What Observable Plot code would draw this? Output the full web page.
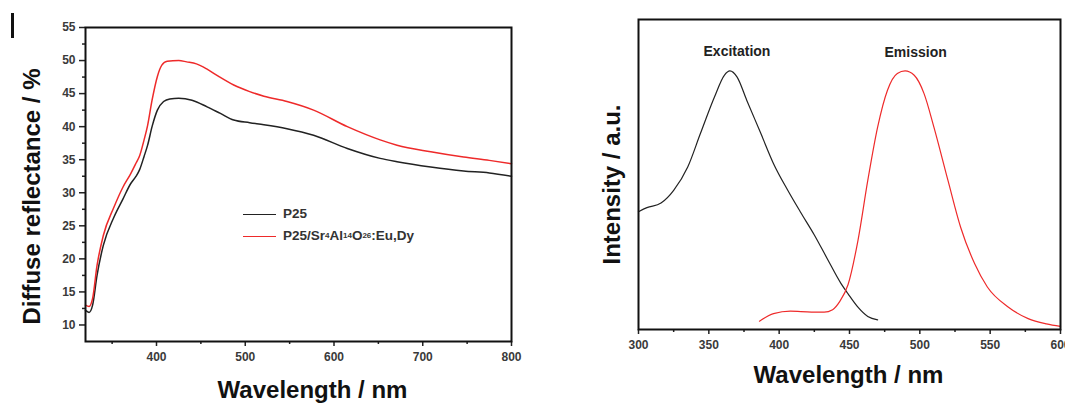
<!DOCTYPE html>
<html>
<head>
<meta charset="utf-8">
<script src="https://cdn.jsdelivr.net/npm/d3@7"></script>
<script src="https://cdn.jsdelivr.net/npm/@observablehq/plot@0.6"></script>
<style>
  html, body { margin: 0; padding: 0; background: #fff; overflow: hidden; }
  #wrap { position: relative; width: 1065px; height: 406px; font-family: "Liberation Sans", Arial, sans-serif; }
  .panel { position: absolute; top: 0; }
  .panel svg { overflow: visible; }
  #legend { position: absolute; left: 243px; top: 203px; font-size: 13.5px; font-weight: bold; color: #333; line-height: 22px; }
  #legend .row { display: flex; align-items: center; white-space: nowrap; }
  #legend .sw { display: inline-block; width: 33px; height: 0; border-top: 1.6px solid; margin-right: 7px; }
  #legend sub { font-size: 8px; vertical-align: -3px; }
  #corner { position: absolute; left: 11px; top: 13px; width: 3px; height: 25px; background: #111; }
</style>
</head>
<body>
<div id="wrap">
  <div id="corner"></div>
  <div class="panel" id="left" style="left:0;width:540px"></div>
  <div class="panel" id="right" style="left:560px;width:505px"></div>
  <div id="legend">
    <div class="row"><span class="sw" style="border-color:#222"></span>P25</div>
    <div class="row"><span class="sw" style="border-color:#ee2a2a"></span>P25/Sr<sub>4</sub>Al<sub>14</sub>O<sub>26</sub>:Eu,Dy</div>
  </div>
</div>
<script>
// ---------- Left panel data: diffuse reflectance ----------
const p25Wl  = [320, 324, 328, 333, 340, 352, 362, 371, 377, 381, 386, 390, 395, 401, 408, 415, 425, 440, 457, 472, 487, 505, 521, 547, 577, 615, 652, 671, 709, 746, 775, 800];
const p25Val = [12.2, 11.9, 13.0, 17.5, 22.0, 26.3, 29.0, 31.4, 32.5, 33.5, 35.5, 37.2, 40.0, 42.5, 43.8, 44.2, 44.3, 44.0, 43.0, 42.0, 41.0, 40.6, 40.3, 39.7, 38.7, 36.7, 35.2, 34.7, 33.9, 33.3, 33.0, 32.5];
const compWl  = [320, 324, 328, 333, 340, 352, 362, 371, 377, 381, 386, 390, 395, 401, 406, 412, 425, 434, 445, 457, 470, 487, 505, 521, 547, 577, 615, 652, 671, 709, 746, 775, 800];
const compVal = [13.0, 12.8, 14.0, 19.0, 23.5, 27.8, 30.8, 32.9, 34.5, 35.6, 38.0, 40.2, 44.0, 47.6, 49.3, 49.9, 50.0, 49.8, 49.5, 48.7, 47.6, 46.3, 45.3, 44.6, 43.8, 42.5, 40.0, 38.0, 37.2, 36.2, 35.4, 34.9, 34.4];
const leftXTicks = [400, 500, 600, 700, 800];
const leftXMinor = [350, 450, 550, 650, 750];
const leftYTicks = [10, 15, 20, 25, 30, 35, 40, 45, 50, 55];
const leftYMinor = [12.5, 17.5, 22.5, 27.5, 32.5, 37.5, 42.5, 47.5, 52.5];

// ---------- Right panel data: excitation / emission ----------
const excWl  = [300, 306, 316, 325, 335, 344, 354, 361, 365, 370, 377, 387, 396, 406, 415, 425, 434, 444, 449, 456, 463, 470];
const excVal = [38.0, 39.3, 40.8, 44.9, 52.4, 63.2, 75.0, 82.0, 83.4, 81.5, 73.9, 63.2, 53.5, 45.0, 38.0, 30.5, 23.0, 14.8, 11.5, 7.2, 4.2, 3.1];
const emiWl  = [386, 396, 408, 423, 432, 438, 443, 449, 456, 463, 470, 477, 484, 489.5, 496, 503, 510, 520, 529, 539, 548, 563, 577, 590, 600];
const emiVal = [2.7, 5.1, 5.9, 5.6, 5.6, 6.4, 9.0, 14.5, 28.7, 48.1, 65.3, 77.2, 82.6, 83.4, 82.0, 76.1, 65.3, 48.1, 33.0, 21.2, 13.7, 7.2, 3.5, 1.8, 1.0];
const peakNames = ["Excitation", "Emission"];
const peakWl = [370, 497];
const peakY = [89.6, 89.4];
const rightXTicks = [300, 350, 400, 450, 500, 550, 600];
const rightXMinor = [325, 375, 425, 475, 525, 575];

const xLabel = "Wavelength / nm";
const leftYLabel = "Diffuse reflectance / %";
const rightYLabel = "Intensity / a.u.";

const p25 = p25Wl.map((w, i) => ({wl: w, v: p25Val[i]}));
const comp = compWl.map((w, i) => ({wl: w, v: compVal[i]}));
const exc = excWl.map((w, i) => ({wl: w, v: excVal[i]}));
const emi = emiWl.map((w, i) => ({wl: w, v: emiVal[i]}));
const peaks = peakNames.map((n, i) => ({name: n, wl: peakWl[i], v: peakY[i]}));

const font = "'Liberation Sans', Arial, sans-serif";
const tickText = {fontSize: 12, fontWeight: "bold", color: "#222"};

const left = Plot.plot({
  width: 540, height: 406,
  marginLeft: 85, marginRight: 29, marginTop: 27, marginBottom: 65,
  style: {fontFamily: font, background: "transparent", overflow: "visible"},
  x: {domain: [320, 800]},
  y: {domain: [7.5, 55]},
  marks: [
    Plot.axisX({ticks: leftXTicks, tickSize: 5, tickPadding: 6, strokeWidth: 1.5, label: null, ...tickText, fill: "#3a3a3a"}),
    Plot.axisX({ticks: leftXMinor, tickSize: 3, strokeWidth: 1.5, label: null, tickFormat: () => "", color: "#222"}),
    Plot.axisY({ticks: leftYTicks, tickSize: 6, tickPadding: 4, strokeWidth: 1.5, label: null, ...tickText, fill: "#3a3a3a"}),
    Plot.axisY({ticks: leftYMinor, tickSize: 3, strokeWidth: 1.5, label: null, tickFormat: () => "", color: "#222"}),
    Plot.line(p25, {x: "wl", y: "v", stroke: "#222", strokeWidth: 1.5, curve: "monotone-x"}),
    Plot.line(comp, {x: "wl", y: "v", stroke: "#ee2a2a", strokeWidth: 1.5, curve: "monotone-x"}),
    Plot.frame({stroke: "#111", strokeWidth: 2}),
    Plot.text([xLabel], {frameAnchor: "bottom", textAnchor: "middle", lineAnchor: "middle", dx: 14, dy: 49, fontSize: 24, fontWeight: "bold", fill: "#111"}),
    Plot.text([leftYLabel], {frameAnchor: "left", textAnchor: "middle", lineAnchor: "middle", rotate: -90, dx: -53, dy: 12, fontSize: 24, fontWeight: "bold", fill: "#111"})
  ]
});
document.getElementById("left").append(left);

const right = Plot.plot({
  width: 505, height: 406,
  marginLeft: 78, marginRight: 5, marginTop: 19, marginBottom: 77,
  style: {fontFamily: font, background: "transparent", overflow: "visible"},
  x: {domain: [300, 600]},
  y: {domain: [0, 100]},
  marks: [
    Plot.axisX({ticks: rightXTicks, tickSize: 5, tickPadding: 6, strokeWidth: 1.5, label: null, ...tickText, fill: "#3a3a3a"}),
    Plot.axisX({ticks: rightXMinor, tickSize: 3, strokeWidth: 1.5, label: null, tickFormat: () => "", color: "#222"}),
    Plot.axisY({ticks: [], label: null}),
    Plot.line(exc, {x: "wl", y: "v", stroke: "#222", strokeWidth: 1.2, curve: "monotone-x"}),
    Plot.line(emi, {x: "wl", y: "v", stroke: "#ee2a2a", strokeWidth: 1.2, curve: "monotone-x"}),
    Plot.text(peaks, {x: "wl", y: "v", text: "name", fontSize: 14, fontWeight: "bold", fill: "#222"}),
    Plot.frame({stroke: "#111", strokeWidth: 2}),
    Plot.text([xLabel], {frameAnchor: "bottom", textAnchor: "middle", lineAnchor: "middle", dx: -1, dy: 46, fontSize: 24, fontWeight: "bold", fill: "#111"}),
    Plot.text([rightYLabel], {frameAnchor: "left", textAnchor: "middle", lineAnchor: "middle", rotate: -90, dx: -26, dy: 10, fontSize: 24, fontWeight: "bold", fill: "#111"})
  ]
});
document.getElementById("right").append(right);
</script>
</body>
</html>
